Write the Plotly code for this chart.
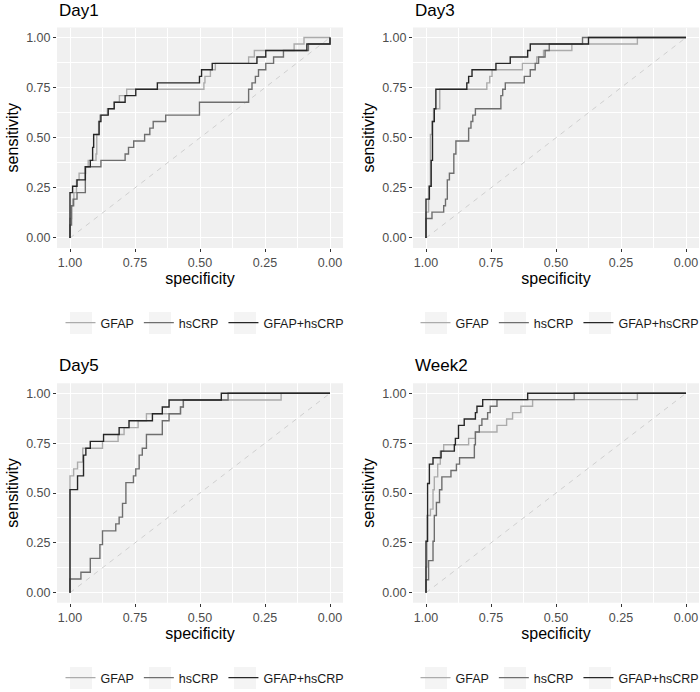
import plotly.graph_objects as go

# ---------------- data (specificity at each step, sensitivity after step) -------------
panels = ["Day1", "Day3", "Day5", "Week2"]
series_names = ["GFAP", "hsCRP", "GFAP+hsCRP"]
tick_vals = [0, 0.25, 0.5, 0.75, 1]
tick_text = ["0.00", "0.25", "0.50", "0.75", "1.00"]

day1_gfap_spec = [1, 1, 0.994, 0.99, 0.985, 0.975, 0.965, 0.94, 0.93, 0.9, 0.897, 0.89, 0.885, 0.856, 0.83, 0.81, 0.782, 0.485, 0.481, 0.46, 0.441, 0.313, 0.291, 0.138, 0.1, 0]
day1_gfap_sens = [0, 0.097, 0.161, 0.194, 0.226, 0.29, 0.323, 0.355, 0.387, 0.419, 0.516, 0.581, 0.613, 0.645, 0.677, 0.71, 0.742, 0.774, 0.806, 0.839, 0.871, 0.903, 0.935, 0.968, 1.0, 1.0]
day1_crp_spec = [1, 1, 0.994, 0.986, 0.973, 0.941, 0.881, 0.788, 0.775, 0.755, 0.713, 0.693, 0.68, 0.632, 0.502, 0.313, 0.30, 0.287, 0.275, 0.247, 0.217, 0.179, 0.083, 0]
day1_crp_sens = [0, 0.065, 0.161, 0.194, 0.226, 0.355, 0.387, 0.419, 0.452, 0.484, 0.516, 0.548, 0.581, 0.613, 0.677, 0.742, 0.774, 0.806, 0.839, 0.871, 0.903, 0.935, 0.968, 1.0]
day1_comb_spec = [1, 1, 0.99, 0.973, 0.941, 0.922, 0.913, 0.909, 0.888, 0.881, 0.853, 0.83, 0.788, 0.747, 0.664, 0.502, 0.494, 0.453, 0.281, 0.247, 0.089, 0]
day1_comb_sens = [0, 0.226, 0.258, 0.29, 0.355, 0.387, 0.452, 0.516, 0.581, 0.613, 0.645, 0.677, 0.71, 0.742, 0.774, 0.806, 0.839, 0.871, 0.903, 0.935, 0.968, 1.0]

day3_gfap_spec = [1, 1, 0.99, 0.983, 0.977, 0.971, 0.947, 0.766, 0.755, 0.746, 0.629, 0.574, 0.548, 0.439, 0.187, 0]
day3_gfap_sens = [0, 0.129, 0.258, 0.516, 0.581, 0.645, 0.742, 0.774, 0.806, 0.839, 0.871, 0.903, 0.935, 0.968, 1.0, 1.0]
day3_crp_spec = [1, 1, 0.977, 0.932, 0.925, 0.918, 0.91, 0.893, 0.885, 0.836, 0.827, 0.82, 0.81, 0.712, 0.705, 0.695, 0.622, 0.599, 0.58, 0.567, 0.542, 0.526, 0.398, 0]
day3_crp_sens = [0, 0.097, 0.129, 0.161, 0.194, 0.29, 0.323, 0.419, 0.484, 0.548, 0.581, 0.613, 0.645, 0.71, 0.742, 0.774, 0.806, 0.839, 0.871, 0.903, 0.935, 0.968, 1.0, 1.0]
day3_comb_spec = [1, 1, 0.987, 0.98, 0.975, 0.968, 0.962, 0.843, 0.836, 0.823, 0.731, 0.676, 0.609, 0.599, 0.375, 0]
day3_comb_sens = [0, 0.194, 0.258, 0.387, 0.581, 0.645, 0.742, 0.774, 0.806, 0.839, 0.871, 0.903, 0.935, 0.968, 1.0, 1.0]

day5_gfap_spec = [1, 1, 0.986, 0.971, 0.951, 0.875, 0.815, 0.792, 0.738, 0.706, 0.575, 0.564, 0.188, 0]
day5_gfap_sens = [0, 0.586, 0.621, 0.655, 0.724, 0.759, 0.793, 0.828, 0.862, 0.897, 0.931, 0.966, 1.0, 1.0]
day5_crp_spec = [1, 1, 0.958, 0.922, 0.885, 0.875, 0.824, 0.811, 0.798, 0.785, 0.756, 0.747, 0.734, 0.722, 0.706, 0.645, 0.619, 0.575, 0.564, 0.392, 0]
day5_crp_sens = [0, 0.069, 0.103, 0.172, 0.241, 0.31, 0.345, 0.379, 0.448, 0.552, 0.586, 0.621, 0.69, 0.724, 0.793, 0.862, 0.897, 0.931, 0.966, 1.0, 1.0]
day5_comb_spec = [1, 1, 0.971, 0.948, 0.939, 0.922, 0.871, 0.811, 0.773, 0.683, 0.645, 0.619, 0.418, 0]
day5_comb_sens = [0, 0.517, 0.586, 0.69, 0.724, 0.759, 0.793, 0.828, 0.862, 0.897, 0.931, 0.966, 1.0, 1.0]

week2_gfap_spec = [1, 1, 0.996, 0.983, 0.973, 0.968, 0.955, 0.945, 0.932, 0.836, 0.81, 0.727, 0.69, 0.667, 0.635, 0.59, 0.187, 0]
week2_gfap_sens = [0, 0.129, 0.387, 0.419, 0.516, 0.581, 0.645, 0.71, 0.742, 0.774, 0.806, 0.839, 0.871, 0.903, 0.935, 0.968, 1.0, 1.0]
week2_crp_spec = [1, 1, 0.99, 0.973, 0.968, 0.96, 0.948, 0.939, 0.904, 0.883, 0.871, 0.814, 0.81, 0.795, 0.785, 0.763, 0.753, 0.727, 0.43, 0]
week2_crp_sens = [0, 0.065, 0.161, 0.258, 0.387, 0.452, 0.516, 0.581, 0.613, 0.645, 0.677, 0.742, 0.806, 0.839, 0.871, 0.903, 0.935, 0.968, 1.0, 1.0]
week2_comb_spec = [1, 1, 0.994, 0.987, 0.973, 0.942, 0.891, 0.887, 0.875, 0.853, 0.81, 0.804, 0.782, 0.609, 0]
week2_comb_sens = [0, 0.258, 0.548, 0.645, 0.677, 0.71, 0.742, 0.774, 0.839, 0.871, 0.903, 0.935, 0.968, 1.0, 1.0]

curves = {
    "Day1": [(day1_gfap_spec, day1_gfap_sens), (day1_crp_spec, day1_crp_sens), (day1_comb_spec, day1_comb_sens)],
    "Day3": [(day3_gfap_spec, day3_gfap_sens), (day3_crp_spec, day3_crp_sens), (day3_comb_spec, day3_comb_sens)],
    "Day5": [(day5_gfap_spec, day5_gfap_sens), (day5_crp_spec, day5_crp_sens), (day5_comb_spec, day5_comb_sens)],
    "Week2": [(week2_gfap_spec, week2_gfap_sens), (week2_crp_spec, week2_crp_sens), (week2_comb_spec, week2_comb_sens)],
}
diag_x = [1, 0]
diag_y = [0, 1]

# ---------------- styling ----------------
colors = ["#ABABAB", "#6E6E6E", "#262626"]
FONT = "Liberation Sans, Arial, sans-serif"
W, H = 700, 692

def px_x(p):
    return p / W

def px_y(p):
    return 1 - p / H

x_domains = [[px_x(57), px_x(343)], [px_x(413), px_x(699)]]
y_domains = [[px_y(248), px_y(27.5)], [px_y(602.7), px_y(383.3)]]
title_y = [px_y(11), px_y(365)]
legend_cy = [323, 678]
legend_cx = [205, 560]
key_offsets = [-124, -45, 40]   # approximate key centres relative to legend centre (px)

fig = go.Figure()
layout = dict(
    width=W, height=H, margin=dict(l=0, r=0, t=0, b=0, autoexpand=False),
    paper_bgcolor="white", plot_bgcolor="#F0F0F0",
    font=dict(family=FONT, color="#1A1A1A"),
    annotations=[], shapes=[],
)

for i, name in enumerate(panels):
    row, col = divmod(i, 2)
    sfx = "" if i == 0 else str(i + 1)
    xa, ya = "x" + sfx, "y" + sfx
    leg = "legend" + sfx
    fig.add_trace(go.Scatter(x=diag_x, y=diag_y, mode="lines", xaxis=xa, yaxis=ya,
                             line=dict(color="#CFCFCF", width=1, dash="5px,5px"),
                             showlegend=False, hoverinfo="skip"))
    for (sx, sy), sname, c in zip(curves[name], series_names, colors):
        fig.add_trace(go.Scatter(x=sx, y=sy, mode="lines", name=sname, xaxis=xa, yaxis=ya,
                                 line=dict(color=c, width=1.4, shape="hv"),
                                 legend=leg))
    common = dict(
        tickvals=tick_vals, ticktext=tick_text, automargin=False,
        showgrid=True, gridcolor="white", gridwidth=1.2,
        minor=dict(tickvals=[0.125, 0.375, 0.625, 0.875], showgrid=True,
                   gridcolor="white", gridwidth=0.6, ticks=""),
        zeroline=False, showline=False,
        ticks="outside", ticklen=3, tickwidth=1, tickcolor="#333333",
        tickfont=dict(family=FONT, size=12.5, color="#4D4D4D"),
    )
    layout["xaxis" + sfx] = dict(
        common, domain=x_domains[col], anchor=ya, range=[1.05, -0.05],
        title=dict(text="specificity", font=dict(family=FONT, size=16, color="black"), standoff=2),
    )
    layout["yaxis" + sfx] = dict(
        common, domain=y_domains[row], anchor=xa, range=[-0.05, 1.05],
        title=dict(text="sensitivity", font=dict(family=FONT, size=16, color="black"), standoff=3),
    )
    layout["annotations"].append(dict(
        text=name, x=x_domains[col][0], y=title_y[row], xref="paper", yref="paper",
        xanchor="left", yanchor="middle", showarrow=False,
        font=dict(family=FONT, size=17, color="black")))
    layout[leg] = dict(
        orientation="h", x=px_x(legend_cx[col]), xanchor="center",
        y=px_y(legend_cy[row]), yanchor="middle",
        font=dict(family=FONT, size=12.5, color="#1A1A1A"), bgcolor="rgba(0,0,0,0)",
        itemwidth=30, traceorder="normal")
    # faint legend key backgrounds (ggplot legend.key)
    for off in key_offsets:
        cx = legend_cx[col] + off
        cy = legend_cy[row]
        layout["shapes"].append(dict(
            type="rect", xref="paper", yref="paper", layer="below",
            x0=px_x(cx - 11), x1=px_x(cx + 11), y0=px_y(cy + 11), y1=px_y(cy - 11),
            fillcolor="#F4F4F4", line=dict(width=0)))

fig.update_layout(**layout)
fig.write_html("out.html", config={"displayModeBar": False},
               post_script="document.body.style.margin='0';document.body.style.overflow='hidden';")
